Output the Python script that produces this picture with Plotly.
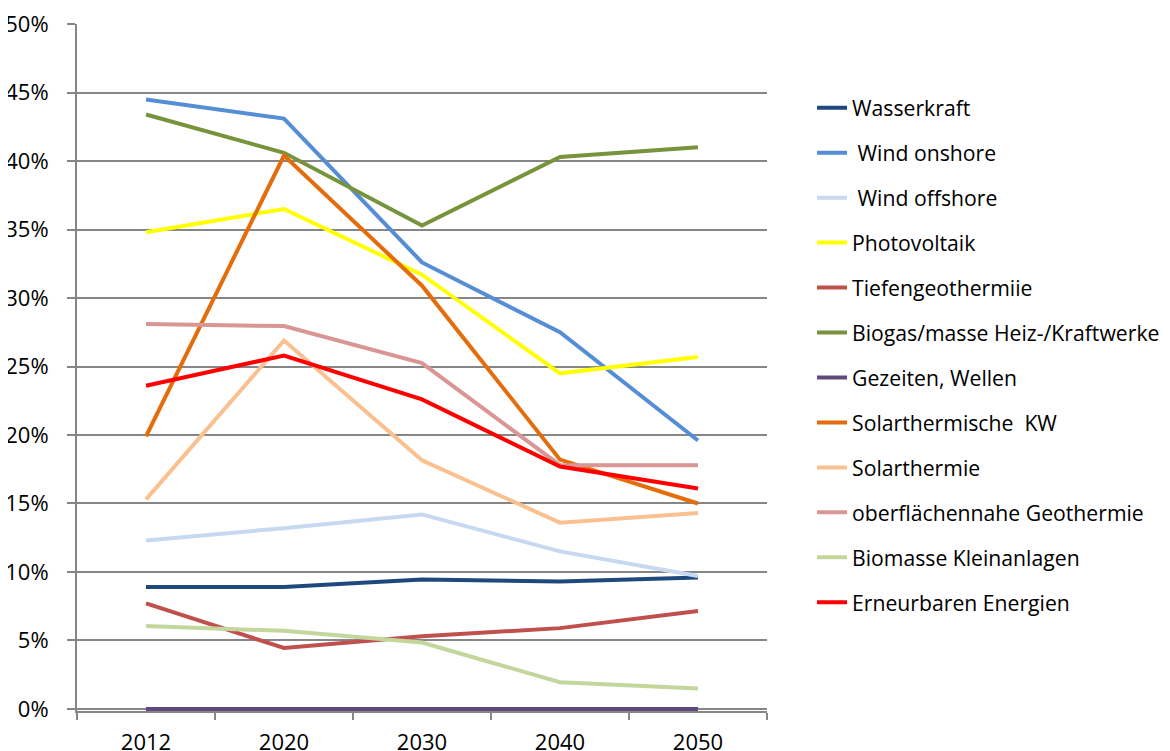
import plotly.graph_objects as go

years = ["2012", "2020", "2030", "2040", "2050"]

wasserkraft = [8.9, 8.9, 9.45, 9.3, 9.6]
wind_onshore = [44.5, 43.1, 32.6, 27.5, 19.6]
wind_offshore = [12.3, 13.2, 14.2, 11.5, 9.7]
photovoltaik = [34.8, 36.5, 31.7, 24.5, 25.7]
tiefengeothermie = [7.7, 4.45, 5.3, 5.9, 7.15]
biogas = [43.4, 40.6, 35.3, 40.3, 41.0]
gezeiten = [0, 0, 0, 0, 0]
solarth_kw = [19.9, 40.4, 30.9, 18.2, 15.0]
solarthermie = [15.3, 26.9, 18.15, 13.6, 14.3]
oberflaechennah = [28.1, 27.95, 25.25, 17.8, 17.8]
biomasse_klein = [6.05, 5.7, 4.85, 1.95, 1.5]
erneuerbare = [23.6, 25.8, 22.6, 17.7, 16.1]

series = [
    ("Wasserkraft", wasserkraft, "#1F497D"),
    ("\u00a0Wind onshore", wind_onshore, "#558ED5"),
    ("\u00a0Wind offshore", wind_offshore, "#C6D9F1"),
    ("Photovoltaik", photovoltaik, "#FFFF00"),
    ("Tiefengeothermiie", tiefengeothermie, "#C0504D"),
    ("Biogas/masse Heiz-/Kraftwerke", biogas, "#77933C"),
    ("Gezeiten, Wellen", gezeiten, "#604A7B"),
    ("Solarthermische\u00a0 KW", solarth_kw, "#E46C0A"),
    ("Solarthermie", solarthermie, "#FAC090"),
    ("oberflächennahe Geothermie", oberflaechennah, "#D99694"),
    ("Biomasse Kleinanlagen", biomasse_klein, "#C3D69B"),
    ("Erneurbaren Energien", erneuerbare, "#FF0000"),
]

fig = go.Figure()
for i, (name, vals, col) in enumerate(series):
    fig.add_trace(go.Scatter(
        x=years, y=[v / 100 for v in vals], mode="lines", name=name,
        legendgroup=f"g{i}",
        line=dict(color=col, width=4),
    ))

grid = "#868686"
# page body has an 8px default margin, sizes below account for it
fig.update_layout(
    width=1170, height=743,
    margin=dict(l=69, r=411, t=16, b=40),
    paper_bgcolor="white", plot_bgcolor="white",
    font=dict(family="Open Sans, sans-serif", size=22, color="black"),
    showlegend=True,
    legend=dict(
        xref="container", yref="container",
        x=0.6872, y=0.8931, xanchor="left", yanchor="top",
        traceorder="grouped", tracegroupgap=14.4, maxheight=700,
        font=dict(size=21.2, color="black"),
        bgcolor="rgba(0,0,0,0)",
    ),
)
fig.update_xaxes(
    type="category", range=[-0.5, 4.5], automargin=False,
    tickson="boundaries", ticks="outside", ticklen=7, tickcolor=grid, tickwidth=2,
    showline=True, linecolor=grid, linewidth=2,
    showgrid=False, ticklabelstandoff=11, ticklabeloverflow="allow",
)
fig.update_yaxes(
    range=[-0.0015, 0.50005], dtick=0.05, tickformat=".0%", automargin=False,
    ticks="outside", ticklen=8, tickcolor=grid, tickwidth=2,
    showline=True, linecolor=grid, linewidth=2,
    showgrid=True, gridcolor=grid, gridwidth=2,
    zeroline=False, ticklabelstandoff=14, ticklabeloverflow="allow",
)

fig.write_html("out.html")
